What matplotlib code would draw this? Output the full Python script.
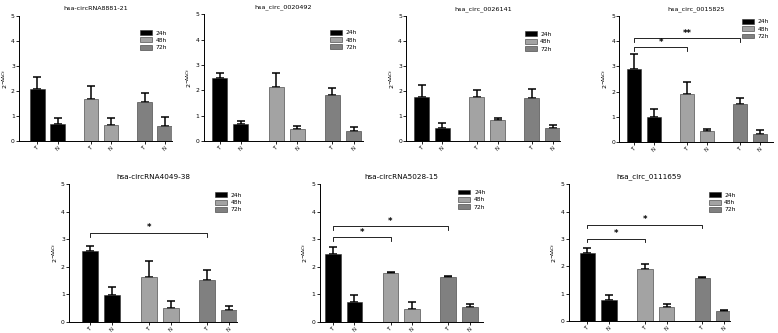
import matplotlib
matplotlib.use('Agg')
import matplotlib.pyplot as plt
import numpy as np
from matplotlib.patches import Patch

# bar order in each panel: T24, N24, T48, N48, T72, N72
tick_labels = ['T', 'N', 'T', 'N', 'T', 'N']
legend_labels = ['24h', '48h', '72h']

titles = [
    'hsa-circRNA8881-21', 'hsa_circ_0020492', 'hsa_circ_0026141', 'hsa_circ_0015825',
    'hsa-circRNA4049-38', 'hsa-circRNA5028-15', 'hsa_circ_0111659',
]

means_8881 = [2.07, 0.69, 1.68, 0.62, 1.55, 0.58]
errs_8881 = [0.47, 0.24, 0.50, 0.30, 0.35, 0.37]
means_0020492 = [2.50, 0.66, 2.13, 0.47, 1.82, 0.39]
errs_0020492 = [0.20, 0.12, 0.55, 0.13, 0.28, 0.16]
means_0026141 = [1.77, 0.50, 1.76, 0.82, 1.73, 0.53]
errs_0026141 = [0.45, 0.22, 0.26, 0.11, 0.34, 0.11]
means_0015825 = [2.88, 1.00, 1.90, 0.44, 1.49, 0.33]
errs_0015825 = [0.60, 0.29, 0.47, 0.07, 0.24, 0.14]
means_4049 = [2.57, 0.97, 1.65, 0.51, 1.53, 0.43]
errs_4049 = [0.18, 0.29, 0.55, 0.26, 0.34, 0.15]
means_5028 = [2.45, 0.72, 1.76, 0.49, 1.64, 0.55]
errs_5028 = [0.26, 0.25, 0.04, 0.25, 0.03, 0.12]
means_0111659 = [2.48, 0.76, 1.89, 0.52, 1.56, 0.36]
errs_0111659 = [0.20, 0.18, 0.20, 0.10, 0.03, 0.04]

# significance brackets: (bar index a, bar index b, height, label)
sig_0015825 = [(0, 2, 3.75, '*'), (0, 4, 4.12, '**')]
sig_4049 = [(0, 4, 3.24, '*')]
sig_5028 = [(0, 2, 3.07, '*'), (0, 4, 3.47, '*')]
sig_0111659 = [(0, 2, 3.01, '*'), (0, 4, 3.52, '*')]

all_means = [means_8881, means_0020492, means_0026141, means_0015825,
             means_4049, means_5028, means_0111659]
all_errs = [errs_8881, errs_0020492, errs_0026141, errs_0015825,
            errs_4049, errs_5028, errs_0111659]
all_sigs = [[], [], [], sig_0015825, sig_4049, sig_5028, sig_0111659]

# layout (figure fractions) and per-panel x limits
rects = [
    [0.0244, 0.577, 0.197, 0.375],
    [0.262, 0.577, 0.204, 0.380],
    [0.522, 0.577, 0.198, 0.375],
    [0.796, 0.574, 0.198, 0.378],
    [0.0887, 0.033, 0.216, 0.414],
    [0.411, 0.033, 0.2095, 0.414],
    [0.731, 0.036, 0.207, 0.411],
]
xlims = [(-0.92, 6.71), (-0.75, 6.75), (-0.75, 6.7), (-0.75, 7.0),
         (-0.97, 6.7), (-0.6, 6.93), (-0.87, 6.6)]
legend_anchor = [(1.0, 0.93), (1.0, 0.92), (0.98, 0.92), (1.01, 1.02),
                 (1.06, 0.98), (1.05, 1.0), (1.07, 0.98)]
title_size = [4.6, 4.6, 4.6, 4.6, 5.2, 5.2, 5.2]

colors = ['#000000', '#a3a3a3', '#808080']
bar_colors = [colors[0], colors[0], colors[1], colors[1], colors[2], colors[2]]
xpos = np.array([0, 1, 2.67, 3.67, 5.33, 6.33])

fig = plt.figure(figsize=(7.78, 3.33), dpi=100)

for i in range(7):
    ax = fig.add_axes(rects[i])
    m = np.array(all_means[i])
    e = np.array(all_errs[i])
    ax.bar(xpos, m, width=0.72, color=bar_colors, edgecolor='#333333', linewidth=0.4, zorder=2)
    ax.errorbar(xpos, m, yerr=[np.zeros_like(e), e], fmt='none', ecolor='black',
                elinewidth=1.1, capsize=3, capthick=1.1, zorder=1)

    for a, b, h, lab in all_sigs[i]:
        ax.plot([xpos[a], xpos[a], xpos[b], xpos[b]], [h - 0.14, h, h, h - 0.14],
                color='black', lw=0.6)
        ax.text((xpos[a] + xpos[b]) / 2, h + 0.02, lab, ha='center', va='bottom',
                fontsize=6, fontweight='bold')

    ax.set_xlim(*xlims[i])
    ax.set_ylim(0, 5)
    ax.set_yticks([0, 1, 2, 3, 4, 5])
    ax.set_xticks(xpos)
    ax.set_xticklabels(tick_labels, rotation=45, fontsize=3.8)
    ax.tick_params(axis='y', labelsize=4.3, length=2, width=0.6, pad=1)
    ax.tick_params(axis='x', length=2, width=0.6, pad=1)
    for s in ['top', 'right']:
        ax.spines[s].set_visible(False)
    for s in ['left', 'bottom']:
        ax.spines[s].set_linewidth(0.7)
    ax.set_title(titles[i], fontsize=title_size[i], pad=4)
    ax.set_ylabel(r'$2^{-\Delta\Delta Ct}$', fontsize=4.5, labelpad=1)

    handles = [Patch(facecolor=c, edgecolor='#333333', linewidth=0.4) for c in colors]
    ax.legend(handles, legend_labels, loc='upper right', bbox_to_anchor=legend_anchor[i],
              frameon=False, fontsize=4.3, handlelength=2.0, handleheight=0.9,
              labelspacing=0.3, handletextpad=0.6)

fig.savefig('out.png', dpi=100)
